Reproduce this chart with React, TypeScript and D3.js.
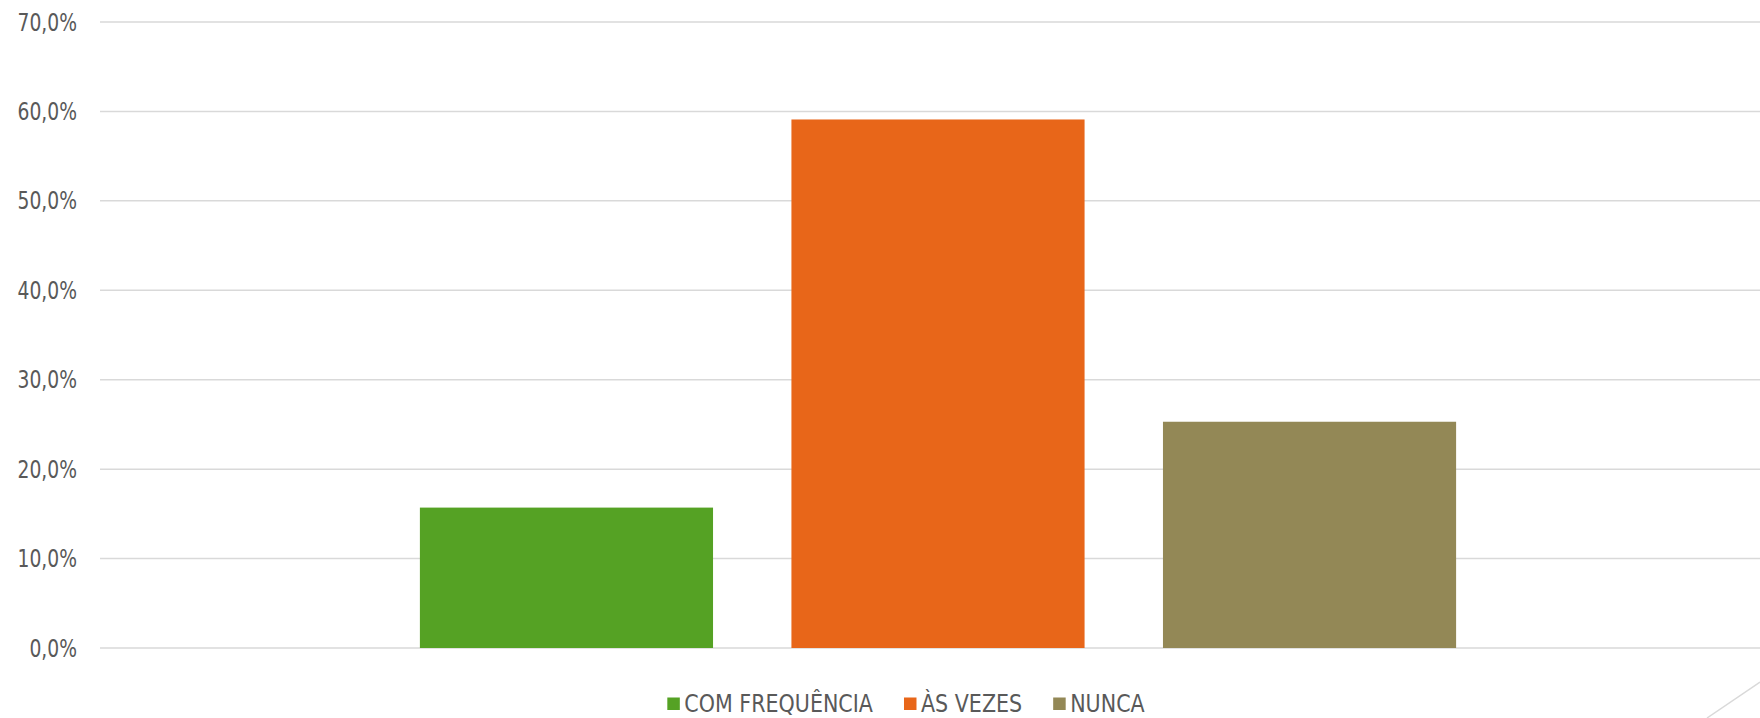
import { useEffect, useRef } from 'react';
import * as d3 from 'd3';

// Data.
const series = ['COM FREQUÊNCIA', 'ÀS VEZES', 'NUNCA'];
const values = [15.7, 59.1, 25.3];
const colors = ['#55a224', '#e86619', '#938856'];
const yTicks = [0, 10, 20, 30, 40, 50, 60, 70];

const width = 1760;
const height = 718;
const font = '"DejaVu Sans", sans-serif';
const fontSize = 24;
const tickSqueeze = 0.78; // the original face is a narrow one
const legendSqueeze = 0.86;
const textColor = '#595959';
const gridColor = '#d9d9d9';

const App = () => {
  const ref = useRef<SVGSVGElement>(null);

  useEffect(() => {
    document.body.style.margin = '0';
    const svg = d3.select(ref.current);
    svg.selectAll('*').remove();

    // Scales.
    const y = d3.scaleLinear().domain([0, 70]).range([648, 22]);
    const x = d3
      .scaleBand()
      .domain(series)
      .range([100, 1776])
      .paddingInner(0.211)
      .paddingOuter(0.861);

    // Gridlines.
    svg
      .append('g')
      .selectAll('line')
      .data(yTicks)
      .join('line')
      .attr('x1', 100)
      .attr('x2', width)
      .attr('y1', (d) => y(d))
      .attr('y2', (d) => y(d))
      .attr('stroke', gridColor)
      .attr('stroke-width', 1.5);

    // Tick labels.
    svg
      .append('g')
      .selectAll('text')
      .data(yTicks)
      .join('text')
      .attr('transform', (d) => `translate(77,${y(d)}) scale(${tickSqueeze},1)`)
      .attr('dy', '0.36em')
      .attr('text-anchor', 'end')
      .attr('font-family', font)
      .attr('font-size', fontSize)
      .attr('fill', textColor)
      .text((d) => d3.format('.1f')(d).replace('.', ',') + '%');

    // Bars.
    svg
      .append('g')
      .selectAll('rect')
      .data(values)
      .join('rect')
      .attr('x', (_, i) => x(series[i]) ?? 0)
      .attr('y', (d) => y(d))
      .attr('width', x.bandwidth())
      .attr('height', (d) => y(0) - y(d))
      .attr('fill', (_, i) => colors[i]);

    // Legend, laid out from the measured text widths.
    const legend = svg.append('g');
    const items = legend.selectAll('g').data(series).join('g');
    items
      .append('rect')
      .attr('y', 697.5)
      .attr('width', 12.5)
      .attr('height', 12.5)
      .attr('fill', (_, i) => colors[i]);
    items
      .append('text')
      .attr('transform', `translate(17,712) scale(${legendSqueeze},1)`)
      .attr('font-family', font)
      .attr('font-size', fontSize)
      .attr('fill', textColor)
      .text((d) => d);

    let offset = 0;
    const positions: number[] = [];
    items.each(function () {
      const t = d3.select(this).select('text').node() as SVGTextElement;
      positions.push(offset);
      offset += 17 + t.getComputedTextLength() * legendSqueeze + 31;
    });
    const total = offset - 31;
    const start = 906 - total / 2;
    items.attr('transform', (_, i) => `translate(${start + positions[i]},0)`);

    // Decorative corner line.
    svg
      .append('line')
      .attr('x1', 1707)
      .attr('y1', height)
      .attr('x2', width)
      .attr('y2', 682)
      .attr('stroke', gridColor)
      .attr('stroke-width', 1.5);
  }, []);

  return (
    <svg
      ref={ref}
      width={width}
      height={height}
      style={{ display: 'block', position: 'absolute', left: 0, top: 0, background: '#fff' }}
    />
  );
};

export default App;
